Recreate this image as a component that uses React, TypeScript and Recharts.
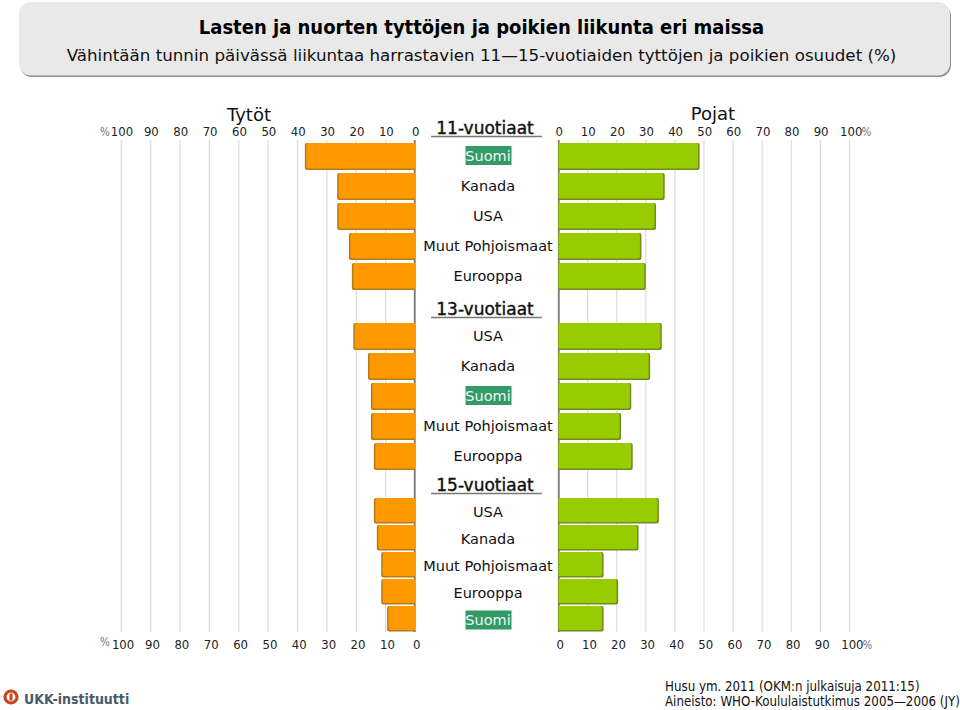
import React from 'react';
import { BarChart, Bar, XAxis, YAxis, CartesianGrid, ReferenceLine, Rectangle } from 'recharts';

const ageGroups = ['11-vuotiaat', '13-vuotiaat', '15-vuotiaat'];
const countries11 = ['Suomi', 'Kanada', 'USA', 'Muut Pohjoismaat', 'Eurooppa'];
const girls11 = [37.5, 26.5, 26.5, 22.5, 21.5];
const boys11 = [48.5, 36.5, 33.5, 28.5, 30];
const countries13 = ['USA', 'Kanada', 'Suomi', 'Muut Pohjoismaat', 'Eurooppa'];
const girls13 = [21, 16, 15, 15, 14];
const boys13 = [35.5, 31.5, 25, 21.5, 25.5];
const countries15 = ['USA', 'Kanada', 'Muut Pohjoismaat', 'Eurooppa', 'Suomi'];
const girls15 = [14, 13, 11.5, 11.5, 9.5];
const boys15 = [34.5, 27.5, 15.5, 20.5, 15.5];
const axisTicks = [0, 10, 20, 30, 40, 50, 60, 70, 80, 90, 100];

const FONT = '"DejaVu Sans", sans-serif';
const COND = '"DejaVu Sans Condensed", "DejaVu Sans", sans-serif';
const build = (c: string[], g: number[], b: number[]) => c.map((country, i) => ({ country, girls: g[i], boys: b[i] }));
const groups = [
  { data: build(countries11, girls11, boys11), top: 141, height: 150, barSize: 27, labelDy: 0 },
  { data: build(countries13, girls13, boys13), top: 321, height: 150, barSize: 27, labelDy: 0 },
  { data: build(countries15, girls15, boys15), top: 496.5, height: 135, barSize: 25.5, labelDy: 2 },
];

const LEFT_X0 = 121.3, LEFT_X1 = 415, RIGHT_X0 = 558.5, RIGHT_X1 = 849.5;
const LABEL_CX = 488;

const makeBar = (fill: string, shadow: string, side: 'l' | 'r') => (p: any) => {
  const x = Math.min(p.x, p.x + p.width);
  const w = Math.abs(p.width);
  const r: [number, number, number, number] = side === 'l' ? [2, 0, 0, 2] : [0, 2, 2, 0];
  return (
    <g>
      <Rectangle x={x} y={p.y} width={w} height={p.height} fill={shadow} radius={r} />
      <Rectangle
        x={side === 'l' ? x + 1.5 : x}
        y={p.y}
        width={w - 1.5}
        height={p.height - 1.5}
        fill={fill}
        radius={r}
      />
    </g>
  );
};
const leftBar = makeBar('#ff9900', '#b57a1a', 'l');
const rightBar = makeBar('#99cc00', '#6f8c1c', 'r');

const CountryTick = (p: any) => {
  const name = p.payload.value;
  const cx = LABEL_CX - 90;
  const suomi = name === 'Suomi';
  const y = p.y + (p.labelDy || 0);
  return (
    <g>
      {suomi && <rect x={cx - 22.5} y={y - 10} width={46} height={19} fill="#339966" />}
      <text x={cx} y={y + 4.5} textAnchor="middle" fontFamily={FONT} fontSize={14.5} fill={suomi ? '#eef7ef' : '#111'}>
        {name}
      </text>
    </g>
  );
};

const PctTick = (p: any) => {
  const v = p.payload.value;
  const extra = p.pct && v === 100 ? 5.5 : 0;
  return (
    <text x={p.x + (p.shift || 0) + extra} y={p.y} dy="0.35em" textAnchor="middle" fontFamily={COND} fontSize={13} fill="#222">
      {v}
      {p.pct && v === 100 ? <tspan fill="#777" fontSize={11.5} dx={-1}>%</tspan> : null}
    </text>
  );
};

const AxisBack = ({ left, width, mL, mR, reversed, pct }: any) => (
  <BarChart
    width={width}
    height={680}
    data={[{ v: 0 }]}
    layout="vertical"
    margin={{ top: 110, bottom: 18, left: mL, right: mR }}
    style={{ position: 'absolute', left, top: 0 }}
  >
    <CartesianGrid horizontal={false} vertical stroke="#dcdcdc" strokeWidth={1.2} xAxisId="top" />
    <XAxis xAxisId="top" type="number" orientation="top" domain={[0, 100]} ticks={axisTicks} interval={0} reversed={reversed} height={30} tickLine={false} axisLine={false} tickMargin={3} tick={<PctTick pct={pct} shift={0.7} />} allowDataOverflow />
    <XAxis xAxisId="bottom" type="number" orientation="bottom" domain={[0, 100]} ticks={axisTicks} interval={0} reversed={reversed} height={30} tickLine={false} axisLine={false} tickMargin={6} tick={<PctTick pct={pct} shift={1.8} />} allowDataOverflow />
    <YAxis type="category" hide />
    <Bar dataKey="v" xAxisId="top" isAnimationActive={false} fill="none" />
    <Bar dataKey="v" xAxisId="bottom" isAnimationActive={false} fill="none" />
    <ReferenceLine x={0.1} xAxisId="bottom" stroke="#7a7a7a" strokeWidth={1.8} ifOverflow="visible" />
  </BarChart>
);

export default function App() {
  return (
    <div style={{ position: 'absolute', left: 0, top: 0, width: 960, height: 710, background: '#fff', overflow: 'hidden' }}>
      <AxisBack left={90} width={355} mL={LEFT_X0 - 90} mR={445 - LEFT_X1} reversed pct={false} />
      <AxisBack left={530} width={350} mL={RIGHT_X0 - 530} mR={880 - RIGHT_X1} reversed={false} pct />

      <svg width={960} height={710} style={{ position: 'absolute', left: 0, top: 0 }}>
        <rect x={20} y={4} width={931} height={73} rx={12} fill="#8d8d8d" />
        <rect x={19} y={2} width={931} height={73.5} rx={12} fill="#e9e9e9" />
        <text x={481.5} y={34} textAnchor="middle" fontFamily={COND} fontWeight="bold" fontSize={20} fill="#000">
          Lasten ja nuorten tyttöjen ja poikien liikunta eri maissa
        </text>
        <text x={481.5} y={60.5} textAnchor="middle" fontFamily={FONT} fontSize={16.7} fill="#111">
          Vähintään tunnin päivässä liikuntaa harrastavien 11—15-vuotiaiden tyttöjen ja poikien osuudet (%)
        </text>
        <text x={249} y={121} textAnchor="middle" fontFamily={FONT} fontSize={18} fill="#111">Tytöt</text>
        <text x={713} y={120} textAnchor="middle" fontFamily={FONT} fontSize={18} fill="#111">Pojat</text>
        <text x={105} y={135.5} textAnchor="middle" fontFamily={COND} fontSize={11.5} fill="#777">%</text>
        <text x={105} y={646} textAnchor="middle" fontFamily={COND} fontSize={11.5} fill="#777">%</text>
        {ageGroups.map((g, i) => {
          const y = [133.5, 314.5, 490.5][i];
          return (
            <g key={g}>
              <text x={485} y={y} textAnchor="middle" fontFamily={FONT} fontSize={17} stroke="#111" strokeWidth={0.4} fill="#111">{g}</text>
              <line x1={431} x2={542} y1={y + 3} y2={y + 3} stroke="#777" strokeWidth={1.3} />
            </g>
          );
        })}
        <circle cx={11} cy={697} r={6} fill="none" stroke="#c8461e" strokeWidth={3.2} />
        <rect x={9.5} y={693.5} width={3} height={7} fill="#c8461e" />
        <text x={24} y={703.5} fontFamily={COND} fontWeight="bold" fontSize={14} fill="#4a5a68">UKK-instituutti</text>
        <text x={665} y={690.5} fontFamily={COND} fontSize={13.2} fill="#111">Husu ym. 2011 (OKM:n julkaisuja 2011:15)</text>
        <text x={665} y={706} fontFamily={COND} fontSize={13.2} fill="#111">Aineisto: WHO-Koululaistutkimus 2005—2006 (JY)</text>
      </svg>

      {groups.map((g, i) => (
        <React.Fragment key={i}>
          <BarChart
            width={470}
            height={g.height}
            data={g.data}
            layout="vertical"
            barCategoryGap={0}
            margin={{ top: 0, bottom: 0, left: LEFT_X0 - 90, right: 560 - LEFT_X1 - 143 }}
            style={{ position: 'absolute', left: 90, top: g.top }}
          >
            <XAxis type="number" domain={[0, 100]} reversed hide />
            <YAxis type="category" dataKey="country" orientation="right" width={143} interval={0} axisLine={false} tickLine={false} tick={<CountryTick labelDy={g.labelDy} />} />
            <Bar dataKey="girls" barSize={g.barSize} isAnimationActive={false} shape={leftBar} />
          </BarChart>
          <BarChart
            width={350}
            height={g.height}
            data={g.data}
            layout="vertical"
            barCategoryGap={0}
            margin={{ top: 0, bottom: 0, left: RIGHT_X0 - 530, right: 880 - RIGHT_X1 }}
            style={{ position: 'absolute', left: 530, top: g.top }}
          >
            <XAxis type="number" domain={[0, 100]} hide />
            <YAxis type="category" dataKey="country" hide />
            <Bar dataKey="boys" barSize={g.barSize} isAnimationActive={false} shape={rightBar} />
          </BarChart>
        </React.Fragment>
      ))}
    </div>
  );
}
